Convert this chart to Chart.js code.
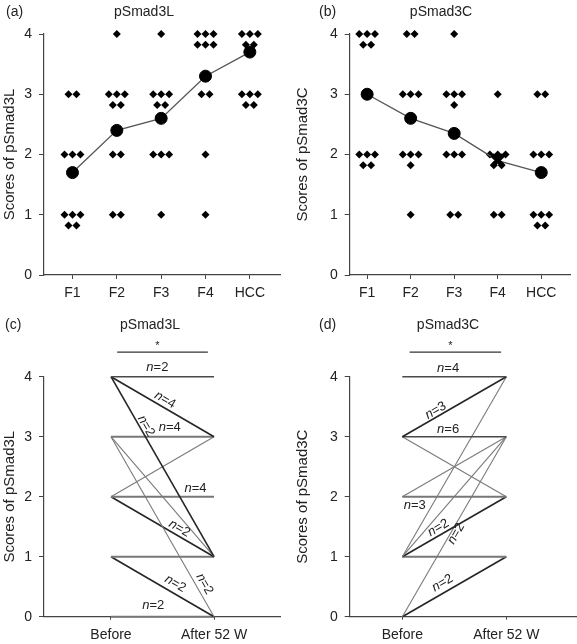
<!DOCTYPE html>
<html lang="en">
<head>
<meta charset="UTF-8">
<title>pSmad3L / pSmad3C scores</title>
<script src="https://cdn.jsdelivr.net/npm/chart.js"></script>
<style>
  body { margin: 0; background: #fff; }
  #wrap { position: relative; width: 577px; height: 644px; }
  canvas { position: absolute; }
</style>
</head>
<body>
<div id="wrap">
  <canvas id="chartA" width="288" height="310" style="left:0;top:0"></canvas>
  <canvas id="chartB" width="289" height="310" style="left:288px;top:0"></canvas>
  <canvas id="chartC" width="288" height="334" style="left:0;top:310px"></canvas>
  <canvas id="chartD" width="289" height="334" style="left:288px;top:310px"></canvas>
</div>
<script>
// ---- data ----
const stages = ['F1', 'F2', 'F3', 'F4', 'HCC'];
const scoreLevels = [1, 2, 3, 4];
const yTicks = [0, 1, 2, 3, 4];

// number of patients at score 1,2,3,4 for each stage
const countsL = [[5, 3, 2, 0], [2, 2, 5, 1], [1, 3, 5, 1], [1, 1, 2, 6], [0, 0, 5, 5]];
const meansL = [1.7, 2.4, 2.6, 3.3, 3.7];
const countsC = [[0, 5, 0, 5], [1, 4, 3, 2], [2, 3, 4, 1], [2, 5, 1, 0], [5, 3, 2, 0]];
const meansC = [3.0, 2.6, 2.35, 1.9, 1.7];

const periods = ['Before', 'After 52 W'];
// paired scores before / after 52 weeks, n = patients on each path
const beforeL = [4, 4, 4, 3, 3, 3, 2, 2, 2, 1, 1, 0];
const afterL  = [4, 3, 1, 3, 1, 0, 3, 2, 1, 1, 0, 0];
const nL      = [2, 4, 2, 4, 1, 2, 1, 4, 2, 1, 2, 2];
const beforeC = [4, 3, 3, 3, 2, 2, 1, 1, 1, 1, 0, 0];
const afterC  = [4, 4, 3, 2, 3, 2, 4, 3, 2, 1, 3, 1];
const nC      = [4, 3, 6, 1, 1, 3, 1, 1, 2, 1, 2, 2];

// label placement along each path: [fraction, offset px] or null
const placeL = [[.45, 9], [.49, 7], [.29, 6], [.57, 9], null, [.84, 8], null, [.82, 8], [.63, 7], null, [.58, 9], [.41, 11]];
const placeC = [[.44, 8], [.35, 6], [.44, 7], null, null, [.12, -9], null, null, [.38, 7], null, [.475, -5], [.43, 9]];
// line look of each path: d = dark, m = mid grey, g = grey thick, t = thin
const lookL = ['m', 'd', 'd', 'g', 't', 't', 't', 'g', 'd', 'g', 'd', 'g'];
const lookC = ['m', 'd', 'm', 't', 't', 'g', 't', 't', 'd', 'g', 't', 'd'];

Chart.defaults.font.family = '"Liberation Sans", Arial, sans-serif';
Chart.defaults.color = '#222';

const DOT_DX = 0.18, DOT_DY = 0.18;
const AXIS = '#444';
const LOOKS = {
  d: { color: '#262626', width: 1.6 },
  m: { color: '#4a4a4a', width: 1.5 },
  g: { color: '#777', width: 2 },
  t: { color: '#7a7a7a', width: 1.1 }
};

function dotPoints(counts) {
  const pts = [];
  counts.forEach((row, ci) => {
    row.forEach((n, si) => {
      let left = n, r = 0;
      while (left > 0) {
        const k = Math.min(3, left);
        for (let j = 0; j < k; j++) {
          pts.push({ x: ci + 1 + (j - (k - 1) / 2) * DOT_DX, y: scoreLevels[si] - r * DOT_DY });
        }
        left -= k; r++;
      }
    });
  });
  return pts;
}

const panelText = {
  id: 'panelText',
  afterDraw(chart, args, o) {
    const ctx = chart.ctx;
    ctx.save();
    ctx.fillStyle = '#222';
    ctx.font = '14px "Liberation Sans", Arial, sans-serif';
    ctx.textBaseline = 'middle';
    ctx.textAlign = 'left';
    ctx.fillText(o.letter, o.lx, o.ly);
    ctx.textAlign = 'center';
    ctx.fillText(o.title, o.tx, o.ly);
    ctx.restore();
  }
};

function nText(ctx, n, x, y, angle) {
  ctx.save();
  ctx.translate(x, y);
  ctx.rotate(angle);
  ctx.textBaseline = 'middle';
  ctx.textAlign = 'left';
  ctx.font = 'italic 13px "Liberation Sans", Arial, sans-serif';
  const w1 = ctx.measureText('n').width;
  ctx.font = '13px "Liberation Sans", Arial, sans-serif';
  const w2 = ctx.measureText('=' + n).width;
  const x0 = -(w1 + w2) / 2;
  ctx.font = 'italic 13px "Liberation Sans", Arial, sans-serif';
  ctx.fillText('n', x0, 0);
  ctx.font = '13px "Liberation Sans", Arial, sans-serif';
  ctx.fillText('=' + n, x0 + w1, 0);
  ctx.restore();
}

const pathLabels = {
  id: 'pathLabels',
  afterDraw(chart, args, o) {
    const ctx = chart.ctx, xs = chart.scales.x, ys = chart.scales.y;
    ctx.save();
    ctx.fillStyle = '#222';
    o.before.forEach((b, i) => {
      const p = o.place[i];
      if (!p) return;
      const x1 = xs.getPixelForValue(1), y1 = ys.getPixelForValue(b);
      const x2 = xs.getPixelForValue(2), y2 = ys.getPixelForValue(o.after[i]);
      const dx = x2 - x1, dy = y2 - y1, len = Math.hypot(dx, dy);
      const nx = dy / len, ny = -dx / len;
      const px = x1 + dx * p[0] + nx * p[1];
      const py = y1 + dy * p[0] + ny * p[1];
      nText(ctx, o.n[i], px, py, Math.atan2(dy, dx));
    });
    // significance bar
    const bx1 = xs.getPixelForValue(o.bar[0]), bx2 = xs.getPixelForValue(o.bar[1]);
    const by = ys.getPixelForValue(o.bar[2]);
    ctx.strokeStyle = '#333';
    ctx.lineWidth = 1.2;
    ctx.beginPath();
    ctx.moveTo(bx1, by); ctx.lineTo(bx2, by);
    ctx.stroke();
    ctx.font = '11px "Liberation Sans", Arial, sans-serif';
    ctx.textAlign = 'center';
    ctx.textBaseline = 'middle';
    ctx.fillText('*', (bx1 + bx2) / 2 - 5, by - 6);
    ctx.restore();
  }
};

function scalesFor(cfg) {
  return {
    x: {
      type: 'linear', min: cfg.xMin, max: cfg.xMax,
      afterBuildTicks: s => { s.ticks = cfg.xLabels.map((_, i) => ({ value: i + 1 })); },
      ticks: { callback: v => cfg.xLabels[v - 1], color: '#222', font: { size: 14 }, padding: cfg.xPad, maxRotation: 0, autoSkip: false },
      grid: { display: true, drawOnChartArea: false, drawTicks: true, tickLength: cfg.xTick, color: AXIS },
      border: { color: AXIS, width: 1.2 },
      afterFit: s => { s.height = cfg.xHeight; }
    },
    y: {
      min: 0, max: 4,
      afterBuildTicks: s => { s.ticks = yTicks.map(v => ({ value: v })); },
      ticks: { color: '#222', font: { size: 14 }, padding: 7 },
      grid: { display: true, drawOnChartArea: false, drawTicks: true, tickLength: 5, color: AXIS },
      border: { color: AXIS, width: 1.2 },
      title: { display: true, text: cfg.yTitle, color: '#222', font: { size: 15 }, padding: 0 },
      afterFit: s => { s.width = cfg.yWidth; }
    }
  };
}

function stageChart(id, counts, means, cfg, meanStyles) {
  new Chart(document.getElementById(id), {
    type: 'scatter',
    data: {
      datasets: [
        {
          type: 'line',
          data: means.map((m, i) => ({ x: i + 1, y: m })),
          borderColor: '#555', borderWidth: 1.3,
          pointStyle: meanStyles.style, pointRadius: meanStyles.radius,
          pointBorderWidth: meanStyles.width,
          pointBackgroundColor: '#000', pointBorderColor: '#000',
          clip: false
        },
        {
          data: dotPoints(counts),
          pointStyle: 'rectRot', pointRadius: 4, pointBorderWidth: 0,
          pointBackgroundColor: '#000',
          clip: false
        }
      ]
    },
    options: {
      responsive: false, animation: false,
      layout: { padding: { top: cfg.top, right: cfg.right, left: cfg.left, bottom: 0 } },
      plugins: { legend: { display: false }, tooltip: { enabled: false }, panelText: cfg.text },
      scales: scalesFor(cfg)
    },
    plugins: [panelText]
  });
}

function pairChart(id, before, after, n, place, look, cfg) {
  new Chart(document.getElementById(id), {
    type: 'line',
    data: {
      datasets: before.map((b, i) => {
        const st = LOOKS[look[i]];
        return {
          data: [{ x: 1, y: b }, { x: 2, y: after[i] }],
          borderColor: st.color, borderWidth: st.width,
          pointRadius: 0, clip: false
        };
      })
    },
    options: {
      responsive: false, animation: false,
      layout: { padding: { top: cfg.top, right: cfg.right, left: cfg.left, bottom: 0 } },
      plugins: {
        legend: { display: false }, tooltip: { enabled: false },
        panelText: cfg.text,
        pathLabels: { before: before, after: after, n: n, place: place, bar: cfg.bar }
      },
      scales: scalesFor(cfg)
    },
    plugins: [panelText, pathLabels]
  });
}

const plainMeans = { style: 'circle', radius: 6, width: 1 };

stageChart('chartA', countsL, meansL, {
  top: 34, right: 8, left: 1, yWidth: 43, xHeight: 35, xMin: 0.358, xMax: 5.68,
  xLabels: stages, xTick: 4, xPad: 6, yTitle: 'Scores of pSmad3L',
  text: { letter: '(a)', lx: 6, ly: 12, title: 'pSmad3L', tx: 144 }
}, plainMeans);

stageChart('chartB', countsC, meansC, {
  top: 34, right: 1, left: 6, yWidth: 55.7, xHeight: 35, xMin: 0.60, xMax: 5.66,
  xLabels: stages, xTick: 4, xPad: 6, yTitle: 'Scores of pSmad3C',
  text: { letter: '(b)', lx: 31, ly: 12, title: 'pSmad3C', tx: 153 }
}, {
  style: ['circle', 'circle', 'circle', 'crossRot', 'circle'],
  radius: [6, 6, 6, 8, 6],
  width: [1, 1, 1, 4.5, 1]
});

pairChart('chartC', beforeL, afterL, nL, placeL, lookL, {
  top: 66.7, right: 8, left: 1, yWidth: 43, xHeight: 27.3, xMin: 0.35, xMax: 2.64,
  xLabels: periods, xTick: 3, xPad: 7, yTitle: 'Scores of pSmad3L',
  bar: [1.06, 1.94, 4.41],
  text: { letter: '(c)', lx: 5, ly: 15, title: 'pSmad3L', tx: 150 }
});

pairChart('chartD', beforeC, afterC, nC, placeC, lookC, {
  top: 66.7, right: 1, left: 6, yWidth: 55.7, xHeight: 27.3, xMin: 0.494, xMax: 2.67,
  xLabels: periods, xTick: 3, xPad: 7, yTitle: 'Scores of pSmad3C',
  bar: [1.07, 1.95, 4.41],
  text: { letter: '(d)', lx: 31, ly: 15, title: 'pSmad3C', tx: 160 }
});
</script>
</body>
</html>
